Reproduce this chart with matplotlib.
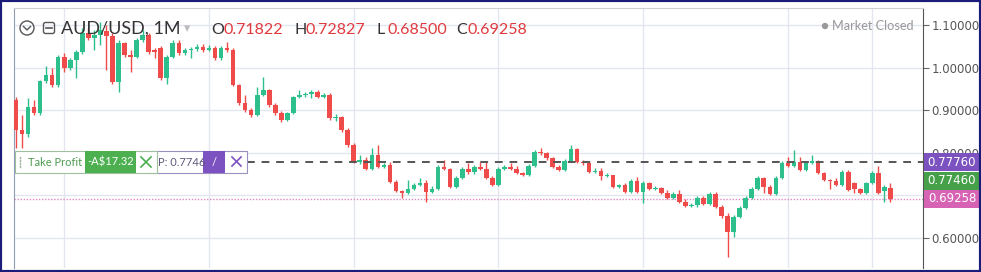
import numpy as np
import matplotlib
matplotlib.use("Agg")
import matplotlib.pyplot as plt
from matplotlib.patches import Rectangle, Circle, FancyBboxPatch
from matplotlib.lines import Line2D
from matplotlib.transforms import blended_transform_factory, ScaledTranslation

plt.rcParams['font.family'] = ['Lato', 'DejaVu Sans']

# monthly AUD/USD candles
opens = [.924, .854, .844, .908, .893, .969, .983, .959, 1.025, .999,
         1.018, 1.037, 1.081, 1.070, 1.077, 1.086, 1.074, .966, 1.058, 1.030,
         1.025, 1.065, 1.077, 1.041, 1.046, .976, 1.025, 1.058, 1.034, 1.041,
         1.044, 1.048, 1.041, 1.046, 1.023, 1.046, 1.041, .959, .917, .901,
         .889, .936, .947, .912, .893, .877, .893, .931, .936, .938,
         .943, .931, .936, .882, .884, .854, .818, .778, .783, .762,
         .795, .767, .771, .732, .710, .706, .715, .724, .729, .708,
         .715, .767, .762, .720, .741, .762, .755, .767, .762, .741,
         .724, .762, .767, .762, .753, .748, .769, .802, .800, .788,
         .767, .760, .781, .809, .778, .776, .755, .757, .746, .748,
         .720, .724, .708, .734, .708, .729, .715, .717, .706, .694,
         .703, .685, .675, .678, .694, .680, .703, .673, .652, .614,
         .649, .670, .694, .715, .741, .720, .703, .741, .776, .769,
         .778, .760, .776, .781, .753, .736, .734, .724, .755, .729,
         .715, .706, .729, .753, .710, .71822]
highs = [.931, .889, .929, .924, .971, 1.004, .999, 1.030, 1.034, 1.023,
         1.041, 1.093, 1.093, 1.088, 1.107, 1.100, 1.081, 1.065, 1.060, 1.041,
         1.070, 1.088, 1.081, 1.046, 1.051, 1.030, 1.065, 1.065, 1.046, 1.048,
         1.055, 1.055, 1.053, 1.051, 1.051, 1.060, 1.046, .962, .936, .905,
         .955, .978, .950, .917, .898, .896, .933, .947, .943, .947,
         .947, .940, .940, .891, .886, .858, .823, .795, .790, .811,
         .818, .776, .778, .736, .713, .736, .729, .741, .736, .722,
         .771, .783, .764, .746, .767, .776, .771, .778, .778, .746,
         .767, .771, .776, .769, .755, .774, .807, .811, .802, .790,
         .771, .786, .818, .811, .783, .778, .764, .764, .753, .748,
         .727, .729, .739, .743, .734, .732, .722, .720, .713, .708,
         .713, .692, .682, .699, .699, .708, .708, .678, .659, .654,
         .675, .699, .720, .746, .743, .724, .746, .781, .790, .807,
         .790, .781, .795, .783, .755, .739, .741, .760, .760, .731,
         .717, .731, .757, .769, .724, .72827]
lows = [.811, .811, .837, .889, .889, .964, .955, .955, .990, .994,
        .976, 1.032, 1.065, 1.041, 1.053, .994, .962, .943, 1.025, .990,
        1.023, 1.060, 1.032, 1.023, .971, .962, 1.023, 1.030, 1.030, 1.023,
        1.039, 1.037, 1.039, 1.018, 1.018, 1.037, .957, .912, .896, .884,
        .886, .933, .908, .889, .872, .875, .891, .929, .931, .929,
        .929, .929, .877, .875, .849, .814, .776, .774, .760, .760,
        .764, .764, .729, .708, .694, .703, .713, .722, .685, .706,
        .713, .760, .717, .717, .739, .750, .750, .760, .739, .722,
        .722, .760, .760, .750, .746, .746, .767, .795, .783, .764,
        .757, .757, .778, .776, .771, .753, .753, .736, .743, .717,
        .717, .706, .706, .706, .682, .713, .713, .703, .692, .692,
        .682, .673, .673, .673, .678, .678, .670, .647, .556, .602,
        .647, .668, .692, .713, .706, .701, .701, .739, .767, .767,
        .757, .757, .774, .750, .734, .715, .722, .722, .710, .706,
        .703, .703, .727, .703, .685, .685]
closes = [.854, .844, .908, .893, .969, .983, .959, 1.025, .999, 1.018,
          1.037, 1.081, 1.070, 1.077, 1.088, 1.074, .966, 1.058, 1.030, 1.025,
          1.065, 1.077, 1.037, 1.037, .976, 1.025, 1.058, 1.034, 1.041, 1.044,
          1.048, 1.041, 1.046, 1.023, 1.046, 1.041, .959, .917, .901, .889,
          .936, .947, .912, .893, .877, .893, .931, .936, .938, .943,
          .931, .936, .882, .884, .854, .818, .778, .783, .762, .795,
          .767, .771, .732, .710, .706, .715, .724, .729, .708, .715,
          .767, .762, .720, .741, .762, .755, .767, .762, .741, .724,
          .762, .767, .762, .753, .748, .769, .802, .800, .788, .767,
          .760, .781, .809, .778, .776, .755, .757, .746, .748, .720,
          .724, .708, .734, .708, .729, .715, .717, .706, .694, .703,
          .685, .675, .678, .694, .680, .703, .673, .652, .614, .649,
          .670, .694, .715, .741, .720, .703, .741, .776, .769, .778,
          .760, .776, .781, .753, .736, .734, .724, .755, .713, .715,
          .706, .729, .753, .706, .720, .69258]

price_ticks = [0.6, 0.7, 0.8, 0.9, 1.0, 1.1]
hidden_ticks = [0.7]          # covered by the last-price tag
year_lines = [8, 32, 56, 80, 104, 128, 142]
symbol = "AUD/USD, 1M"
order_price = 0.7776
tp_price = 0.7746
tp_pnl = "-A$17.32"

UP = '#2ec08c'
DOWN = '#f04b4b'
W, H = 981, 272

fig = plt.figure(figsize=(W / 100, H / 100), dpi=100)
fig.patch.set_facecolor('white')


def P(x, y):
    # pixel (from top-left) -> inches for fig.dpi_scale_trans
    return x / 100, (H - y) / 100


ax = fig.add_axes([14 / W, 4 / H, (923 - 14) / W, (264 - 4) / H])
ax.set_xlim(-0.33, 150.4)
ax.set_ylim(0.5296, 1.1399)

o = np.array(opens)
c = np.array(closes)
hi = np.array(highs)
lo = np.array(lows)
x = np.arange(len(o))
cols = np.where(c >= o, UP, DOWN)

ax.vlines(x, lo, hi, colors=cols, lw=1, zorder=3)
body = np.maximum(np.abs(c - o), 0.0016)
ax.bar(x, body, bottom=np.minimum(o, c), width=0.76, color=cols, zorder=4)

# grid
ax.set_xticks(year_lines)
ax.set_xticklabels([])
ax.set_yticks(price_ticks)
ax.set_yticklabels(['' if v in hidden_ticks else '%.5f' % v
                    for v in price_ticks])
ax.grid(True, color='#e3e6ee', lw=1, zorder=0)
ax.yaxis.tick_right()
ax.tick_params(axis='x', length=0)
ax.tick_params(axis='y', length=4, color='#666', labelcolor='#555',
               labelsize=8.5, pad=2)
for lab in ax.get_yticklabels():
    lab.set_family('DejaVu Sans')
ax.spines['left'].set_color('#8e9cb8')
ax.spines['top'].set_color('#d0d0d0')
ax.spines['right'].set_color('#555')
ax.spines['bottom'].set_visible(False)

# order line and last price line
ax.axhline(order_price, xmin=(247 - 14) / 909, xmax=1, color='#555',
           lw=1.4, ls=(0, (4, 3.5)), zorder=5)
ax.axhline(closes[-1], color='#e08ac8', lw=1, ls=(0, (1, 1.2)), zorder=2)

# price labels on the scale
def price_tag(value, color, dy_px):
    tr = blended_transform_factory(fig.transFigure, ax.transData) + \
        ScaledTranslation(0, -dy_px / 100, fig.dpi_scale_trans)
    half = 9 * (1.1399 - 0.5296) / 260
    ax.add_patch(Rectangle((923.5 / W, value - half), (W - 923.5) / W, 2 * half,
                           transform=tr, facecolor=color, edgecolor='none',
                           clip_on=False, zorder=10))
    ax.text(952 / W, value, '%.5f' % value, transform=tr, color='white',
            ha='center', va='center', fontsize=8.5, family='DejaVu Sans',
            clip_on=False, zorder=11)


price_tag(order_price, '#7b52c0', 0)
price_tag(tp_price, '#46a04a', 17)
price_tag(closes[-1], '#d763b4', 0)

T = fig.dpi_scale_trans


def line(xs, ys, color, lw=1.2, z=20):
    pts = [P(a, b) for a, b in zip(xs, ys)]
    fig.add_artist(Line2D([p[0] for p in pts], [p[1] for p in pts],
                          transform=T, color=color, lw=lw, zorder=z))


def rect(x0, y0, x1, y1, face, edge='none', z=20):
    fig.add_artist(Rectangle(P(x0, y1), (x1 - x0) / 100, (y1 - y0) / 100,
                             transform=T, facecolor=face, edgecolor=edge,
                             lw=0.8, zorder=z))


# order widgets on the left
rect(150, 151, 247, 173, 'white', '#9a8fbf', 18)
fig.text(*P(158, 162), 'P: %.4f' % tp_price, transform=T, color='#5f587c',
         fontsize=8, va='center', zorder=21)
rect(203, 151, 225, 173, '#7b52c0', 'none', 21)
fig.text(*P(214, 162), '/', transform=T, color='white', fontsize=8,
         ha='center', va='center', zorder=22)
line([232, 241], [157, 166], '#7b52c0', z=22)
line([232, 241], [166, 157], '#7b52c0', z=22)

rect(15, 151, 157, 173, 'white', '#9fbf9f', 21)
for yy in [157, 160, 163, 166]:
    line([20, 20], [yy, yy + 1.2], '#9ab59a', 1, z=23)
fig.text(*P(28, 162), 'Take Profit', transform=T, color='#4f9a52',
         fontsize=8, va='center', zorder=23)
rect(85, 151, 136, 173, '#4caf50', 'none', 22)
fig.text(*P(110.5, 162), tp_pnl, transform=T, color='white', fontsize=8,
         ha='center', va='center', zorder=23)
line([141, 151], [157, 167], '#4caf50', z=23)
line([141, 151], [167, 157], '#4caf50', z=23)

# header
fig.add_artist(Circle(P(27, 28), 0.07, transform=T, fill=False,
                      edgecolor='#555', lw=1, zorder=20))
line([23.5, 27, 30.5], [26.5, 30, 26.5], '#555', 1)
fig.add_artist(FancyBboxPatch(P(43.5, 33.5), 0.11, 0.11, transform=T,
                              boxstyle='round,pad=0,rounding_size=0.02',
                              fill=False, edgecolor='#555', lw=1, zorder=20))
line([46, 52], [28, 28], '#555', 1.2)
fig.text(*P(61, 29), symbol, transform=T, color='#333', fontsize=13,
         va='center', zorder=20)
fig.text(*P(184, 29), '\u25be', transform=T, color='#bbbbbb', fontsize=9,
         va='center', family='DejaVu Sans', zorder=20)

ohlc = [('O', opens[-1]), ('H', highs[-1]), ('L', lows[-1]), ('C', closes[-1])]
xpos = [211, 294, 376, 456]
for (k, v), xp in zip(ohlc, xpos):
    fig.text(*P(xp, 30), k, transform=T, color='#333', fontsize=11.5,
             va='center', zorder=20)
    fig.text(*P(xp + 12, 30), '%.5f' % v, transform=T, color='#e0393e',
             fontsize=11.5, va='center', zorder=20)

fig.add_artist(Circle(P(825, 26), 0.032, transform=T, facecolor='#999',
                      edgecolor='none', zorder=20))
fig.text(*P(832, 26.5), 'Market Closed', transform=T, color='#999',
         fontsize=9.2, va='center', zorder=20)

# outer frame
fig.add_artist(Rectangle((0, 0), 1, 1, transform=fig.transFigure, fill=False,
                         edgecolor='#1b1b7a', lw=3, zorder=30))

fig.savefig('out.png', dpi=100)
